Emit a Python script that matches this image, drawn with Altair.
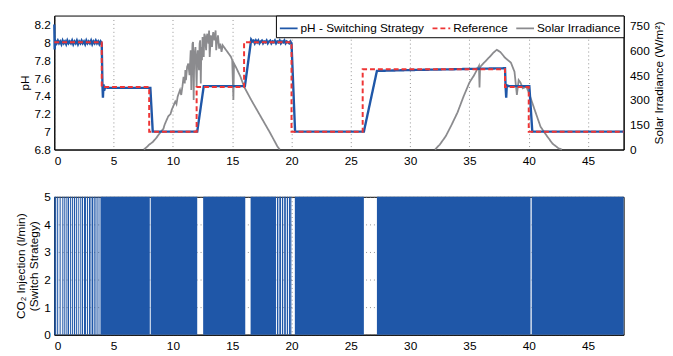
import altair as alt
import pandas as pd

BLUE = "#1f57a8"
RED = "#ee3535"
GRAY = "#8b8b8e"
FONT = "Liberation Sans"

SERIES = ["pH - Switching Strategy", "Reference", "Solar Irradiance"]

# pH measured under the switching strategy (time in h, pH)
ph_t = [0.0, 0.03, 0.08, 0.2, 0.3, 0.4, 0.5, 0.6, 0.7, 0.8, 0.9, 1.0, 1.1, 1.2, 1.3, 1.4,
        1.5, 1.6, 1.7, 1.8, 1.9, 2.0, 2.1, 2.2, 2.3, 2.4, 2.5, 2.6, 2.7, 2.8, 2.9, 3.0,
        3.1, 3.2, 3.3, 3.4, 3.5, 3.6, 3.7, 3.8, 3.9, 4.0, 4.06, 4.1, 4.15, 4.2, 4.3, 4.5,
        6.0, 8.1, 8.3, 10.0, 12.05, 12.6, 14.0, 16.07, 16.6, 16.7, 16.8, 16.9, 17.0, 17.1,
        17.2, 17.3, 17.4, 17.5, 17.6, 17.7, 17.8, 17.9, 18.0, 18.1, 18.2, 18.3, 18.4, 18.5,
        18.6, 18.7, 18.8, 18.9, 19.0, 19.1, 19.2, 19.3, 19.4, 19.5, 19.6, 19.7, 19.8, 19.9,
        20.0, 20.3, 23.0, 26.1, 27.2, 30.0, 34.0, 38.0, 38.05, 38.1, 38.15, 38.3, 39.0,
        40.05, 40.3, 44.0, 48.0]
ph_v = [8.2, 7.92, 8.02, 7.99, 8.02, 7.99, 8.01, 7.98, 8.02, 7.99, 8.01, 7.98, 8.02, 7.99, 8.01, 7.99,
        8.02, 7.98, 8.01, 7.99, 8.02, 7.98, 8.01, 7.99, 8.02, 7.99, 8.01, 7.98, 8.02, 7.99, 8.01, 7.99,
        8.02, 7.98, 8.01, 7.99, 8.02, 7.99, 8.01, 7.98, 8.01, 7.99, 7.52, 7.38, 7.53, 7.46, 7.5, 7.49,
        7.49, 7.49, 7.0, 7.0, 7.0, 7.51, 7.51, 7.51, 8.03, 8.01, 8.02, 7.99, 8.02, 8.0,
        8.02, 7.99, 8.01, 8.02, 7.99, 8.01, 8.0, 8.02, 7.99, 8.01, 8.02, 7.99, 8.01, 8.0,
        8.02, 7.99, 8.01, 8.0, 8.02, 7.99, 8.01, 8.0, 8.02, 7.99, 8.01, 8.0, 7.99, 8.01,
        7.99, 7.0, 7.0, 7.0, 7.68, 7.69, 7.70, 7.71, 7.5, 7.38, 7.52, 7.51, 7.51,
        7.51, 7.0, 7.0, 7.0]

# pH reference (set-point) steps
ref_t = [0, 4, 4, 8, 8, 12, 12, 16, 16, 20, 20, 26, 26, 38, 38, 40, 40, 48]
ref_v = [8.0, 8.0, 7.5, 7.5, 7.0, 7.0, 7.5, 7.5, 8.0, 8.0, 7.0, 7.0, 7.7, 7.7, 7.5, 7.5, 7.0, 7.0]

# Solar irradiance, day 1 (time in h, W/m2)
sun1_t = [7.55, 7.8, 8.0, 8.3, 8.6, 9.0, 9.2, 9.3, 9.6, 9.8, 9.9, 10.2, 10.3, 10.4, 10.6,
          10.7, 10.8, 10.9, 11.0, 11.05, 11.1, 11.2, 11.3, 11.4, 11.5, 11.55, 11.6, 11.65,
          11.7, 11.75, 11.8, 11.9, 12.0, 12.05, 12.1, 12.2, 12.25, 12.3, 12.35, 12.4, 12.45,
          12.5, 12.6, 12.65, 12.7, 12.8, 12.85, 12.9, 13.0, 13.05, 13.1, 13.2, 13.3, 13.35,
          13.4, 13.5, 13.6, 13.65, 13.7, 13.8, 13.9, 14.0, 14.1, 14.2, 14.3, 14.5, 14.7,
          14.9, 15.0, 15.1, 15.15, 15.3, 15.5, 15.7, 15.9, 16.0, 16.3, 16.6, 17.0, 17.4,
          17.8, 18.2, 18.5, 18.8, 19.0]
sun1_v = [0, 15, 30, 45, 70, 110, 125, 150, 200, 215, 240, 290, 275, 320, 360,
          330, 380, 440, 400, 480, 420, 500, 520, 450, 600, 360, 530, 640,
          650, 300, 560, 620, 380, 560, 600, 480, 640, 660, 400, 620, 540,
          680, 560, 700, 690, 600, 680, 700, 640, 720, 560, 690, 620, 680,
          710, 660, 720, 600, 640, 690, 610, 640, 590, 630, 620, 600, 580,
          560, 540, 300, 520, 500, 470, 440, 400, 380, 340, 300, 250, 200,
          150, 100, 60, 20, 0]

# Solar irradiance, day 2
sun2_t = [32.1, 32.5, 33.0, 33.5, 34.0, 34.5, 35.0, 35.4, 35.8, 35.85, 35.9, 36.3, 36.7, 37.0,
          37.3, 37.6, 38.0, 38.5, 38.8, 39.0, 39.15, 39.3, 39.5, 39.8, 40.0, 40.5, 41.0, 41.5,
          42.0, 42.5, 42.8]
sun2_v = [0, 30, 80, 150, 225, 320, 405, 450, 505, 375, 500, 530, 560, 584,
          603, 590, 555, 525, 470, 330, 420, 405, 370, 380, 345, 240, 137, 85,
          36, 8, 0]

# CO2 injection (5 l/min) switched off during these intervals (h)
gap_start = [0.13, 0.30, 0.43, 0.57, 0.71, 0.88, 1.04, 1.24, 1.40, 1.57, 1.76, 1.93, 2.07,
             2.23, 2.42, 2.67, 2.84, 3.06, 3.29, 3.48, 3.65, 3.81,
             8.05, 12.05, 16.1, 18.69, 18.89, 19.11, 19.30, 19.52, 19.71, 19.94, 20.03,
             26.1, 40.15]
gap_end = [0.21, 0.38, 0.51, 0.65, 0.79, 0.96, 1.12, 1.32, 1.48, 1.65, 1.84, 2.01, 2.15,
           2.31, 2.50, 2.75, 2.92, 3.14, 3.37, 3.56, 3.73, 3.89,
           8.13, 12.55, 16.55, 18.77, 18.97, 19.19, 19.38, 19.60, 19.79, 20.0, 20.28,
           27.2, 40.25]
CO2_RATE = 5
T_END = 48

ph_df = pd.DataFrame({"t": ph_t, "v": ph_v, "series": SERIES[0]})
ref_df = pd.DataFrame({"t": ref_t, "v": ref_v, "series": SERIES[1]})
sun_df = pd.concat([
    pd.DataFrame({"t": sun1_t, "v": sun1_v, "day": 1}),
    pd.DataFrame({"t": sun2_t, "v": sun2_v, "day": 2}),
])
sun_df["series"] = SERIES[2]

on_s, on_e = [], []
cur = 0.0
for s, e in zip(gap_start, gap_end):
    on_s.append(cur)
    on_e.append(s)
    cur = e
on_s.append(cur)
on_e.append(T_END)
co2_df = pd.DataFrame({"s": on_s, "e": on_e, "lo": 0, "hi": CO2_RATE})

color_scale = alt.Scale(domain=SERIES, range=[BLUE, RED, GRAY])
dash_scale = alt.Scale(domain=SERIES, range=[[1, 0], [5, 3], [1, 0]])
legend = alt.Legend(
    title=None, orient="top-right", direction="horizontal", offset=0,
    strokeColor="black", fillColor="white", padding=3, cornerRadius=0,
    symbolType="stroke", symbolSize=324, symbolStrokeWidth=2, labelOffset=2,
    columnPadding=4, labelFont=FONT, labelFontSize=12, labelColor="black",
)

x_axis = alt.Axis(values=list(range(0, 50, 5)), title=None, labelPadding=6)
x_enc = alt.X("t:Q", scale=alt.Scale(domain=[0, 48], nice=False, zero=False), axis=x_axis)

ph_axis = alt.Axis(values=[6.8, 7.0, 7.2, 7.4, 7.6, 7.8, 8.0, 8.2], format=".1~f",
                   title="pH", orient="left", labelPadding=4, titlePadding=2)
ph_scale = alt.Scale(domain=[6.8, 8.3], nice=False, zero=False)

sun_line = alt.Chart(sun_df).mark_line(strokeWidth=1.8).encode(
    x=x_enc,
    y=alt.Y("v:Q", scale=alt.Scale(domain=[0, 810], nice=False),
            axis=alt.Axis(values=[0, 150, 300, 450, 600, 750], orient="right",
                          title="Solar Irradiance (W/m²)", titleAngle=270,
                          titleBaseline="top", grid=False, labelPadding=6,
                          titlePadding=4)),
    color=alt.Color("series:N", scale=color_scale, legend=legend),
    strokeDash=alt.StrokeDash("series:N", scale=dash_scale, legend=legend),
    detail="day:N",
)

ph_line = alt.Chart(ph_df).mark_line(strokeWidth=2.4).encode(
    x=x_enc,
    y=alt.Y("v:Q", scale=ph_scale, axis=ph_axis),
    color=alt.Color("series:N", scale=color_scale, legend=legend),
    strokeDash=alt.StrokeDash("series:N", scale=dash_scale, legend=legend),
)
ref_line = alt.Chart(ref_df).mark_line(strokeWidth=2).encode(
    x=x_enc,
    y=alt.Y("v:Q", scale=ph_scale, axis=ph_axis),
    color=alt.Color("series:N", scale=color_scale, legend=legend),
    strokeDash=alt.StrokeDash("series:N", scale=dash_scale, legend=legend),
)

top = alt.layer(sun_line, alt.layer(ph_line, ref_line)).resolve_scale(
    y="independent").properties(width=578, height=136)

bottom = alt.Chart(co2_df).mark_rect(color=BLUE).encode(
    x=alt.X("s:Q", scale=alt.Scale(domain=[0, 48], nice=False), axis=x_axis),
    x2="e:Q",
    y=alt.Y("lo:Q", scale=alt.Scale(domain=[0, 5], nice=False),
            axis=alt.Axis(values=[0, 1, 2, 3, 4, 5],
                          title=["CO₂ Injection (l/min)", "(Switch Strategy)"],
                          labelPadding=4, titlePadding=3)),
    y2="hi:Q",
).properties(width=578, height=140)

chart = alt.vconcat(top, bottom, spacing=48, bounds="flush").properties(
    padding={"left": 5, "top": 4, "right": 0, "bottom": 5}
).configure_view(stroke="black", strokeWidth=1).configure_axis(
    labelFont=FONT, labelFontSize=12, labelColor="black",
    titleFont=FONT, titleFontSize=12, titleFontWeight="normal", titleColor="black",
    domainColor="black", domainWidth=1, ticks=False, tickSize=0,
    gridColor="#777777", gridDash=[1, 3], gridWidth=0.8,
)

chart.save("out.html", embed_options={"renderer": "svg", "actions": False})
